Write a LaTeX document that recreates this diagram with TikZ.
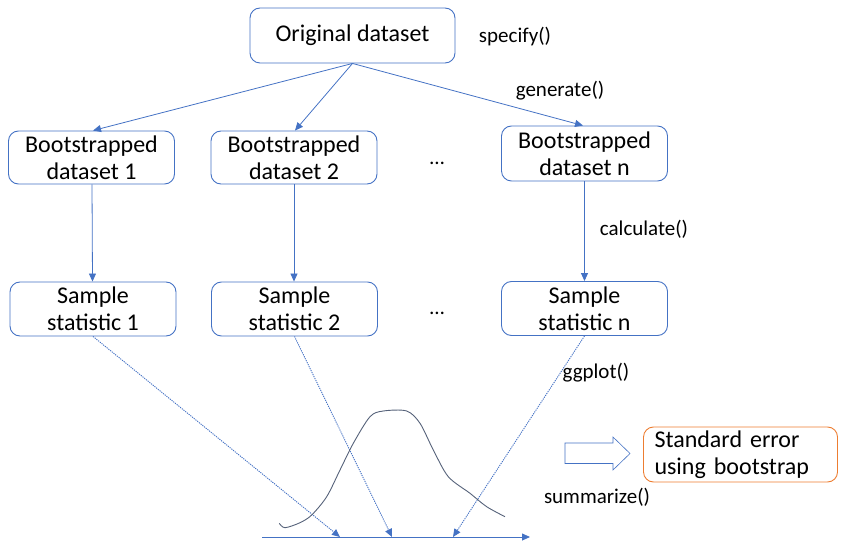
\documentclass[tikz,border=0pt]{standalone}
\usepackage{fontspec}
\setmainfont{Carlito}
\usetikzlibrary{arrows.meta}
\definecolor{oblue}{HTML}{4472C4}
\definecolor{oorange}{HTML}{ED7D31}
\definecolor{curvec}{HTML}{56627A}
\begin{document}
\begin{tikzpicture}[x=1pt,y=-1pt,
 box/.style={draw=oblue, rounded corners=10pt, line width=0.9pt, font=\fontsize{24}{27}\selectfont, align=center, inner sep=0pt},
 lbl/.style={font=\fontsize{21}{24}\selectfont, inner sep=0pt},
 arr/.style={draw=oblue, line width=0.8pt, -{Triangle[length=8pt,width=7pt]}},
 darr/.style={arr, line width=0.9pt, dash pattern=on 1.2pt off 1pt}]
\useasboundingbox (0,0) rectangle (848,545);
% boxes
\node[box, minimum width=205pt, minimum height=55pt] (orig) at (352.5,35.5) {Original dataset};
\node[box, minimum width=166pt, minimum height=53pt] (b1) at (91.5,157.5) {Bootstrapped\\dataset 1};
\node[box, minimum width=166pt, minimum height=53pt] (b2) at (294,157.5) {Bootstrapped\\dataset 2};
\node[box, minimum width=166pt, minimum height=55pt] (bn) at (584.5,153.5) {Bootstrapped\\dataset n};
\node[box, minimum width=166pt, minimum height=54pt] (s1) at (93,309) {Sample\\statistic 1};
\node[box, minimum width=166pt, minimum height=54pt] (s2) at (294.5,309) {Sample\\statistic 2};
\node[box, minimum width=166pt, minimum height=54pt] (sn) at (584.5,308.5) {Sample\\statistic n};
\node[box, draw=oorange, text width=172pt, align=left, inner xsep=11pt, minimum height=55pt] (se) at (740.5,454.5) {Standard error\\using bootstrap};
% labels
\node[lbl] (spec) at (515,37) {specify()};
\node[lbl] (gen) at (560,91) {generate()};
\node[lbl] (calc) at (644,229) {calculate()};
\node[lbl] (gg) at (596,373) {ggplot()};
\node[lbl] (summ) at (597,497) {summarize()};
\node[lbl] (d1) at (437,163) {…};
\node[lbl] (d2) at (437,313) {…};
% connectors
\draw[arr] (orig.south) -- ([xshift=1.5pt]b1.north);
\draw[arr] (orig.south) -- ([xshift=1pt]b2.north);
\draw[arr] (orig.south) -- ([xshift=-1.5pt]bn.north);
\draw[arr] ([xshift=0.5pt]b1.south) -- ([xshift=-0.5pt]s1.north);
\draw[arr] (b2.south) -- (b2.south |- s2.north);
\draw[arr] (bn.south) -- (bn.south |- sn.north);
% axis
\coordinate (ax0) at (262,537);
\coordinate (ax1) at (530,537);
\coordinate (a1) at (340,537);
\coordinate (a2) at (392,537);
\coordinate (a3) at (453,537);
\draw[arr] (ax0) -- (ax1);
\draw[darr] (s1.south) -- (a1);
\draw[darr] (s2.south) -- (a2);
\draw[darr] (sn.south) -- (a3);
% bell curve
\draw[curvec, line width=0.9pt] plot[smooth, tension=0.5] coordinates {(279.3,523.3) (285,527.7) (300,522.7) (311.7,515) (326.7,496.7) (340,470) (353.3,443.3) (370,416.7) (383.3,411) (406.7,411) (420,423.3) (433.3,450) (448.3,476.7) (470,493.3) (486.7,506.7) (505,516.7)};
% block arrow
\draw[oblue, line width=0.6pt, fill=white] (565,443) -- (613,443) -- (613,437) -- (630,453.5) -- (613,470) -- (613,463.5) -- (565,463.5) -- cycle;
\end{tikzpicture}
\end{document}
